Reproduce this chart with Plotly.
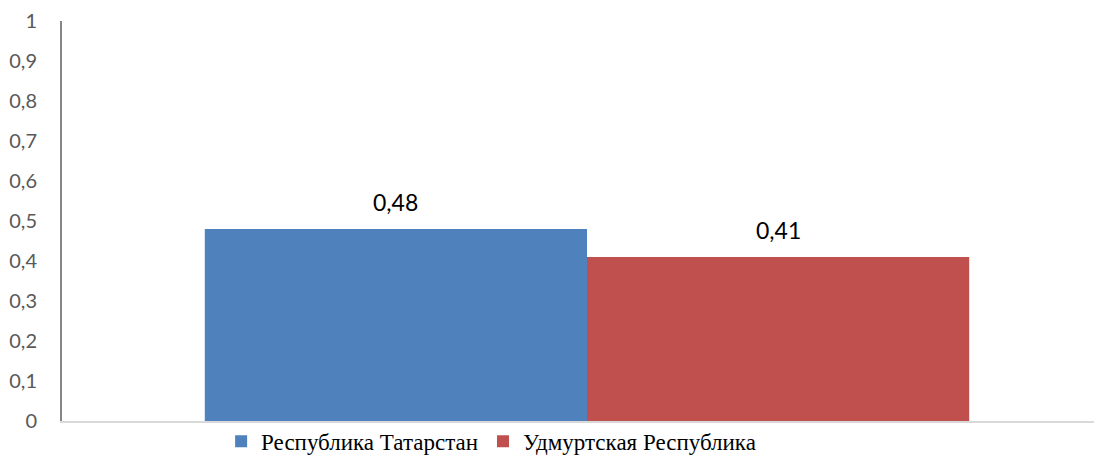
import plotly.graph_objects as go

categories = [""]
series_names = ["Республика Татарстан", "Удмуртская Республика"]
series_values = [[0.48], [0.41]]
colors = ["#4f81bd", "#c0504d"]
y_ticks = [0, 0.1, 0.2, 0.3, 0.4, 0.5, 0.6, 0.7, 0.8, 0.9, 1]

BARGAP = 0.272
n = len(series_names)
bar_w = (1 - BARGAP) / n

fig = go.Figure()
annotations = []
for i, (name, vals, col) in enumerate(zip(series_names, series_values, colors)):
    fig.add_trace(go.Bar(
        x=categories, y=vals, name=name, marker_color=col, marker_line_width=0,
    ))
    offset = -(1 - BARGAP) / 2 + bar_w * (i + 0.5)
    for ci, v in enumerate(vals):
        annotations.append(dict(
            x=ci + offset, y=v, xref="x", yref="y", text=f"{v:.2f}".replace(".", ","),
            showarrow=False, yanchor="bottom", xanchor="center", yshift=11,
            font=dict(family="Lato, Open Sans, sans-serif", size=23, color="#000000"),
        ))

fig.update_layout(
    width=1094, height=449,
    margin=dict(l=54, r=0, t=13, b=36, autoexpand=False),
    paper_bgcolor="white", plot_bgcolor="white",
    barmode="group", bargap=BARGAP, bargroupgap=0,
    showlegend=True,
    legend=dict(orientation="h", x=0.153, xanchor="left",
                y=0.003, yanchor="top", itemwidth=30,
                bgcolor="rgba(0,0,0,0)", borderwidth=0,
                font=dict(family="Times New Roman, Liberation Serif, Tinos, DejaVu Serif, serif",
                          size=23, color="#000000"),
                tracegroupgap=0, itemclick=False),
    annotations=annotations,
)
fig.update_xaxes(range=[-0.5, -0.5 + 1040 / 1050], showline=True, linecolor="#d9d9d9",
                 linewidth=2, showticklabels=False, showgrid=False, zeroline=False,
                 fixedrange=True, automargin=False)
fig.update_yaxes(range=[0, 1], tickvals=y_ticks, ticktext=[str(t).replace(".", ",") for t in y_ticks],
                 showline=True, linecolor="#868686", linewidth=2, showgrid=False, zeroline=False,
                 ticks="", ticklabelstandoff=19, automargin=False,
                 tickfont=dict(family="Lato, Open Sans, sans-serif", size=20, color="#595959"))

fig.write_html("out.html")
